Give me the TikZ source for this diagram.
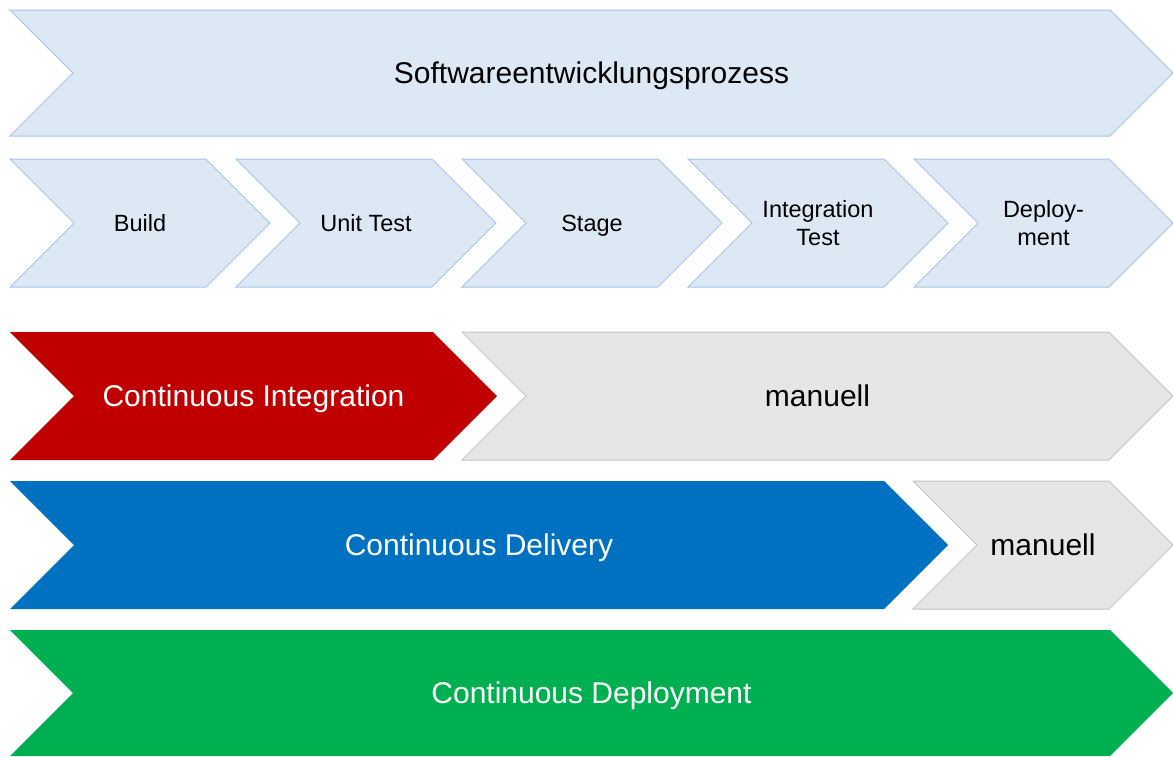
\documentclass[tikz,border=0pt]{standalone}
\usepackage{fontspec}
\setmainfont{Liberation Sans}
\definecolor{stepfill}{HTML}{DDE8F5}
\definecolor{stepline}{HTML}{A3C4E6}
\definecolor{manfill}{HTML}{E6E6E6}
\definecolor{manline}{HTML}{C4C4C4}
\definecolor{ciRed}{HTML}{C00000}
\definecolor{cdBlue}{HTML}{0070C0}
\definecolor{cdpGreen}{HTML}{00B050}
% chevron: style, left x, tip x, middle y, half height (= point depth)
\newcommand{\chevronshape}[5]{%
  \path[#1] (#2,{#4-#5}) -- ({#3-#5},{#4-#5}) -- (#3,#4) -- ({#3-#5},{#4+#5})
    -- (#2,{#4+#5}) -- ({#2+#5},#4) -- cycle;}
\tikzset{
  phase/.style={fill=stepfill, draw=stepline, line width=1pt, line join=miter},
  manual/.style={fill=manfill, draw=manline, line width=1pt},
  solidred/.style={fill=ciRed},
  solidblue/.style={fill=cdBlue},
  solidgreen/.style={fill=cdpGreen},
  biglabel/.style={font=\fontsize{30}{36}\selectfont, text height=27.6pt, text depth=6pt, inner sep=0pt},
  steplabel/.style={font=\fontsize{23.5}{28}\selectfont, text height=21.6pt, text depth=4.7pt, inner sep=0pt, align=center},
  twoline/.style={steplabel, yshift=-14pt},
}
\begin{document}
\begin{tikzpicture}[x=1pt, y=-1pt]
\useasboundingbox (0,0) rectangle (1173,756);
% overall process
\chevronshape{phase}{10}{1173}{73}{63}
\node[biglabel] (proc) at (591.5,73) {Softwareentwicklungsprozess};
% individual phases
\chevronshape{phase}{10}{270}{223}{64}
\chevronshape{phase}{236}{496}{223}{64}
\chevronshape{phase}{462}{722}{223}{64}
\chevronshape{phase}{688}{948}{223}{64}
\chevronshape{phase}{914}{1173}{223}{64}
\node[steplabel] (build) at (140,223) {Build};
\node[steplabel] (unit) at (366,223) {Unit Test};
\node[steplabel] (stage) at (592,223) {Stage};
\node[twoline] (integ) at (818,223) {Integration\\Test};
\node[twoline] (deploy) at (1043.5,223) {Deploy-\\ment};
% continuous integration
\chevronshape{solidred}{10}{497}{396}{64}
\chevronshape{manual}{462}{1173}{396}{64}
\node[biglabel, text=white] (ci) at (253.5,396) {Continuous Integration};
\node[biglabel] (manA) at (817.5,396) {manuell};
% continuous delivery
\chevronshape{solidblue}{10}{948}{545}{64}
\chevronshape{manual}{913}{1173}{545}{64}
\node[biglabel, text=white] (cd) at (479,545) {Continuous Delivery};
\node[biglabel] (manB) at (1043,545) {manuell};
% continuous deployment
\chevronshape{solidgreen}{10}{1173}{693}{63}
\node[biglabel, text=white] (cdp) at (591.5,693) {Continuous Deployment};
\end{tikzpicture}
\end{document}
